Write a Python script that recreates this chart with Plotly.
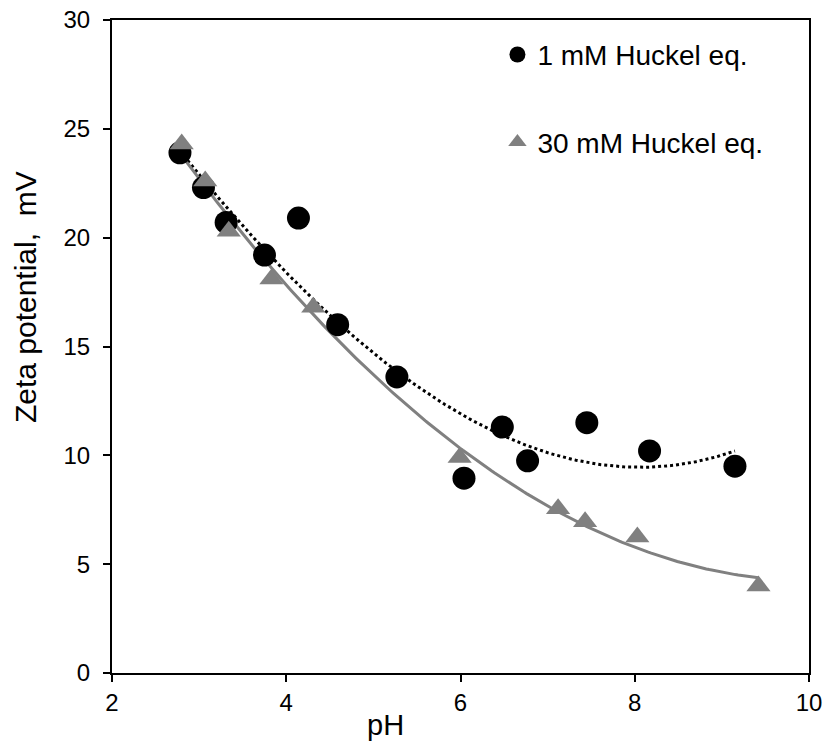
import numpy as np
import plotly.graph_objects as go

# 1 mM Huckel eq. (circles)
ph_1mm = [2.78, 3.05, 3.31, 3.75, 4.14, 4.59, 5.27, 6.04, 6.48, 6.77, 7.45, 8.17, 9.15]
zeta_1mm = [23.9, 22.3, 20.7, 19.2, 20.9, 16.0, 13.6, 8.95, 11.3, 9.75, 11.5, 10.2, 9.5]

# 30 mM Huckel eq. (triangles)
ph_30mm = [2.80, 3.07, 3.34, 3.83, 4.31, 5.99, 7.12, 7.43, 8.03, 9.42]
zeta_30mm = [24.3, 22.6, 20.3, 18.1, 16.8, 9.9, 7.55, 6.95, 6.25, 4.0]

x_ticks = [2, 4, 6, 8, 10]
y_ticks = [0, 5, 10, 15, 20, 25, 30]

FONT = "Arial, Liberation Sans, sans-serif"
GRAY = "#808080"

# polynomial trendlines fitted from the data
p1 = np.polyfit(ph_1mm, zeta_1mm, 3)
p30 = np.polyfit(ph_30mm, zeta_30mm, 2)
xs1 = np.linspace(min(ph_1mm), max(ph_1mm), 200)
xs30 = np.linspace(min(ph_30mm), max(ph_30mm), 200)

fig = go.Figure()
fig.add_trace(go.Scatter(x=xs1, y=np.polyval(p1, xs1), mode="lines",
                         line=dict(color="black", width=3, dash="dot"),
                         showlegend=False, hoverinfo="skip"))
fig.add_trace(go.Scatter(x=xs30, y=np.polyval(p30, xs30), mode="lines",
                         line=dict(color=GRAY, width=3),
                         showlegend=False, hoverinfo="skip"))
fig.add_trace(go.Scatter(x=ph_1mm, y=zeta_1mm, mode="markers", name="1 mM Huckel eq.",
                         legendgroup="a",
                         marker=dict(symbol="circle", size=23, color="black")))
fig.add_trace(go.Scatter(x=ph_30mm, y=zeta_30mm, mode="markers", name="30 mM Huckel eq.",
                         legendgroup="b",
                         marker=dict(symbol="triangle-up", size=21, color=GRAY)))

axis_common = dict(showline=True, linecolor="black", linewidth=2, mirror=True,
                   ticks="outside", ticklen=7, tickwidth=2, tickcolor="black",
                   showgrid=False, zeroline=False,
                   tickfont=dict(family=FONT, size=24, color="black"))

fig.update_xaxes(range=[2, 10], tickvals=x_ticks, ticktext=[str(v) for v in x_ticks],
                 **axis_common)
fig.update_yaxes(range=[0, 30], tickvals=y_ticks, ticktext=[str(v) for v in y_ticks],
                 ticklabelstandoff=8, **axis_common)

fig.add_annotation(text="pH", xref="paper", yref="paper", x=0.393, y=-0.08,
                   xanchor="center", yanchor="middle", showarrow=False,
                   font=dict(family=FONT, size=29, color="black"))
fig.add_annotation(text="Zeta potential,  mV", xref="paper", yref="paper",
                   x=-0.124, y=0.575, xanchor="center", yanchor="middle",
                   textangle=-90, showarrow=False,
                   font=dict(family=FONT, size=30, color="black"))

fig.update_layout(
    width=824, height=744,
    margin=dict(l=112, r=15, t=20, b=71, autoexpand=False),
    paper_bgcolor="white", plot_bgcolor="white",
    showlegend=True,
    legend=dict(x=0.553, y=0.985, xanchor="left", yanchor="top",
                font=dict(family=FONT, size=28, color="black"),
                bgcolor="rgba(0,0,0,0)", traceorder="grouped", tracegroupgap=48,
                itemsizing="trace"),
)

fig.write_html("out.html")
